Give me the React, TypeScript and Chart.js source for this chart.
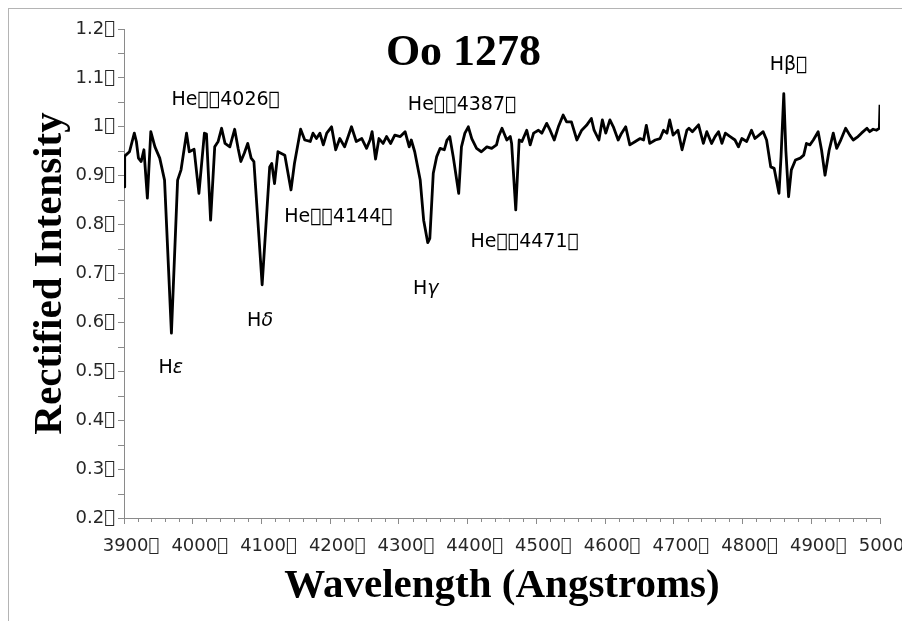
import React, { useEffect, useRef } from "react";
import { Chart, registerables } from "chart.js";

Chart.register(...registerables);

// glyph the original font could not show (rendered as a box)
const T = "\uE000";

const wavelengths = [
  3900, 3901, 3908, 3915, 3918, 3921, 3925, 3929, 3934, 3939, 3945, 3952, 3959, 3969, 3978, 3983, 3991, 3995,
  4002, 4009, 4017, 4020, 4026, 4032, 4037, 4042, 4047, 4054, 4061, 4066, 4070, 4075, 4080, 4085, 4089, 4101,
  4112, 4115, 4119, 4124, 4134, 4143, 4148, 4157, 4163, 4171, 4175, 4180, 4185, 4190, 4195, 4202, 4208, 4214,
  4221, 4231, 4238, 4246, 4253, 4258, 4261, 4266, 4271, 4277, 4282, 4288, 4294, 4302, 4309, 4315, 4318, 4323,
  4331, 4336, 4342, 4345, 4350, 4355, 4360, 4366, 4370, 4374, 4379, 4387, 4391, 4396, 4401, 4406, 4413, 4420,
  4428, 4435, 4442, 4445, 4450, 4457, 4462, 4464, 4470, 4475, 4479, 4486, 4491, 4496, 4503, 4508, 4515, 4520,
  4526, 4532, 4539, 4544, 4551, 4559, 4566, 4573, 4580, 4584, 4591, 4596, 4601, 4607, 4612, 4619, 4624, 4630,
  4636, 4644, 4651, 4656, 4660, 4665, 4673, 4680, 4685, 4690, 4694, 4699, 4706, 4712, 4719, 4722, 4727, 4736,
  4743, 4748, 4755, 4760, 4765, 4770, 4775, 4782, 4789, 4794, 4799, 4806, 4813, 4818, 4824, 4830, 4835, 4841,
  4846, 4853, 4856, 4860, 4863, 4867, 4871, 4877, 4884, 4889, 4893, 4898, 4903, 4910, 4915, 4920, 4926, 4932,
  4937, 4942, 4950, 4956, 4961, 4968, 4973, 4981, 4985, 4990, 4995, 4999, 5000,
];

const intensities = [
  0.877, 0.94, 0.949, 0.987, 0.97, 0.936, 0.929, 0.953, 0.854, 0.99, 0.959, 0.936, 0.891, 0.578, 0.891, 0.912, 0.987, 0.949,
  0.954, 0.864, 0.987, 0.985, 0.809, 0.959, 0.97, 0.997, 0.966, 0.959, 0.995, 0.956, 0.929, 0.946, 0.966, 0.936, 0.929, 0.677,
  0.918, 0.925, 0.884, 0.949, 0.942, 0.871, 0.925, 0.995, 0.973, 0.97, 0.987, 0.976, 0.987, 0.963, 0.987, 1.0, 0.953, 0.976,
  0.959, 1.0, 0.97, 0.976, 0.956, 0.973, 0.99, 0.934, 0.976, 0.966, 0.98, 0.966, 0.983, 0.98, 0.99, 0.959, 0.973, 0.949,
  0.891, 0.809, 0.763, 0.772, 0.905, 0.939, 0.956, 0.953, 0.973, 0.98, 0.939, 0.864, 0.959, 0.987, 1.0, 0.976, 0.956, 0.949,
  0.959, 0.956, 0.963, 0.98, 0.997, 0.973, 0.98, 0.966, 0.83, 0.973, 0.97, 0.993, 0.963, 0.987, 0.993, 0.987, 1.007, 0.993,
  0.973, 1.0, 1.024, 1.01, 1.01, 0.973, 0.993, 1.003, 1.017, 0.993, 0.973, 1.014, 0.987, 1.014, 1.0, 0.973, 0.987, 1.0,
  0.963, 0.97, 0.976, 0.973, 1.003, 0.966, 0.973, 0.976, 0.993, 0.987, 1.014, 0.983, 0.993, 0.953, 0.993, 0.997, 0.99, 1.004,
  0.966, 0.99, 0.966, 0.98, 0.99, 0.966, 0.987, 0.98, 0.973, 0.959, 0.976, 0.97, 0.993, 0.976, 0.983, 0.99, 0.973, 0.918,
  0.915, 0.864, 0.939, 1.068, 0.952, 0.857, 0.912, 0.932, 0.936, 0.942, 0.966, 0.963, 0.973, 0.99, 0.952, 0.901, 0.952, 0.987,
  0.956, 0.97, 0.997, 0.983, 0.973, 0.98, 0.987, 0.997, 0.99, 0.995, 0.993, 0.997, 1.045,
];

const xTickValues = [3900, 4000, 4100, 4200, 4300, 4400, 4500, 4600, 4700, 4800, 4900, 5000];
const xTickLabels = ["3900", "4000", "4100", "4200", "4300", "4400", "4500", "4600", "4700", "4800", "4900", "5000"].map((s) => s + T);
const yTickValues = [0.2, 0.3, 0.4, 0.5, 0.6, 0.7, 0.8, 0.9, 1.0, 1.1, 1.2];
const yTickLabels = ["0.2", "0.3", "0.4", "0.5", "0.6", "0.7", "0.8", "0.9", "1", "1.1", "1.2"].map((s) => s + T);
const xMinorTicks = [3920, 3940, 3960, 3980, 4020, 4040, 4060, 4080, 4120, 4140, 4160, 4180, 4220, 4240, 4260, 4280,
  4320, 4340, 4360, 4380, 4420, 4440, 4460, 4480, 4520, 4540, 4560, 4580, 4620, 4640, 4660, 4680, 4720, 4740, 4760, 4780,
  4820, 4840, 4860, 4880, 4920, 4940, 4960, 4980];
const yMinorTicks = [0.25, 0.35, 0.45, 0.55, 0.65, 0.75, 0.85, 0.95, 1.05, 1.15];

const chartTitle = "Oo 1278";
const xAxisTitle = "Wavelength (Angstroms)";
const yAxisTitle = "Rectified Intensity";

const lineLabels = [
  { text: "He" + T + T + "4026" + T, greek: "", x: 4048, y: 1.055 },
  { text: "He" + T + T + "4144" + T, greek: "", x: 4212, y: 0.816 },
  { text: "He" + T + T + "4387" + T, greek: "", x: 4392, y: 1.045 },
  { text: "He" + T + T + "4471" + T, greek: "", x: 4483, y: 0.765 },
  { text: "H", greek: "ε", x: 3968, y: 0.506 },
  { text: "H", greek: "δ", x: 4098, y: 0.603 },
  { text: "H", greek: "γ", x: 4339, y: 0.669 },
  { text: "Hβ" + T, greek: "", x: 4867, y: 1.126 },
];

const AXIS = "#8a8a8a";
const SANS = "'DejaVu Sans', sans-serif";
const SERIF = "'Liberation Serif', serif";

const textPlugin = {
  id: "overlayText",
  afterDraw(chart: any) {
    const { ctx, scales } = chart;
    const xs = scales.x;
    const ys = scales.y;
    ctx.save();
    // minor ticks
    ctx.strokeStyle = AXIS;
    ctx.lineWidth = 1;
    const bottom = chart.chartArea.bottom;
    const left = chart.chartArea.left;
    xMinorTicks.forEach((v) => {
      const px = Math.round(xs.getPixelForValue(v)) + 0.5;
      ctx.beginPath();
      ctx.moveTo(px, bottom);
      ctx.lineTo(px, bottom + 4);
      ctx.stroke();
    });
    yMinorTicks.forEach((v) => {
      const py = Math.round(ys.getPixelForValue(v)) + 0.5;
      ctx.beginPath();
      ctx.moveTo(left - 6, py);
      ctx.lineTo(left, py);
      ctx.stroke();
    });
    // title
    ctx.fillStyle = "#000";
    ctx.font = `bold 44px ${SERIF}`;
    ctx.textAlign = "center";
    ctx.textBaseline = "alphabetic";
    ctx.fillText(chartTitle, chart.width / 2 + 4, 56);
    // line labels
    ctx.textBaseline = "middle";
    ctx.textAlign = "left";
    lineLabels.forEach((l) => {
      const cx = xs.getPixelForValue(l.x);
      const cy = ys.getPixelForValue(l.y);
      ctx.font = `19px ${SANS}`;
      const w1 = ctx.measureText(l.text).width;
      ctx.font = `italic 19px ${SANS}`;
      const w2 = l.greek ? ctx.measureText(l.greek).width : 0;
      const x0 = cx - (w1 + w2) / 2;
      ctx.font = `19px ${SANS}`;
      ctx.fillText(l.text, x0, cy);
      if (l.greek) {
        ctx.font = `italic 19px ${SANS}`;
        ctx.fillText(l.greek, x0 + w1, cy);
      }
    });
    ctx.restore();
  },
};

export default function App() {
  const ref = useRef<HTMLCanvasElement | null>(null);
  useEffect(() => {
    document.documentElement.style.overflow = "hidden";
    if (!ref.current) return;
    const data = wavelengths.map((w, i) => ({ x: w, y: intensities[i] }));
    const chart = new Chart(ref.current, {
      type: "line",
      data: {
        datasets: [
          {
            data,
            borderColor: "#000",
            borderWidth: 2.8,
            pointRadius: 0,
            tension: 0,
            borderJoinStyle: "round",
            fill: false,
          },
        ],
      },
      options: {
        responsive: false,
        animation: false,
        layout: { padding: { left: 0, right: 30, top: 20, bottom: 0 } },
        plugins: { legend: { display: false }, tooltip: { enabled: false }, title: { display: false } },
        scales: {
          x: {
            type: "linear",
            min: 3900,
            max: 5000,
            afterBuildTicks: (s: any) => {
              s.ticks = xTickValues.map((v) => ({ value: v }));
            },
            afterFit: (s: any) => {
              s.height = 103;
              s.paddingLeft = 0;
              s.paddingRight = 0;
            },
            ticks: {
              autoSkip: false,
              maxRotation: 0,
              padding: 12,
              labelOffset: 7,
              color: "#262626",
              font: { family: SANS, size: 18 },
              callback: (_v: any, i: number) => xTickLabels[i],
            },
            grid: { drawOnChartArea: false, drawTicks: true, tickLength: 6, color: AXIS },
            border: { color: AXIS, width: 1 },
            title: {
              display: true,
              text: xAxisTitle,
              color: "#000",
              font: { family: SERIF, size: 41, weight: "bold" },
              padding: { top: 0, bottom: 10 },
            },
          },
          y: {
            type: "linear",
            min: 0.2,
            max: 1.2,
            afterBuildTicks: (s: any) => {
              s.ticks = yTickValues.map((v) => ({ value: v }));
            },
            afterFit: (s: any) => {
              s.width = 115;
              s.paddingTop = 0;
              s.paddingBottom = 0;
            },
            ticks: {
              autoSkip: false,
              padding: 3,
              color: "#262626",
              font: { family: SANS, size: 18 },
              callback: (_v: any, i: number) => yTickLabels[i],
            },
            grid: { drawOnChartArea: false, drawTicks: true, tickLength: 6, color: AXIS },
            border: { color: AXIS, width: 1 },
            title: {
              display: true,
              text: yAxisTitle,
              color: "#000",
              font: { family: SERIF, size: 41, weight: "bold" },
              padding: { top: 17, bottom: 0 },
            },
          },
        },
      },
      plugins: [textPlugin],
    });
    return () => chart.destroy();
  }, []);
  return (
    <div
      style={{
        width: 902,
        height: 613,
        borderTop: "1px solid #b4b4b4",
        borderLeft: "1px solid #b4b4b4",
        boxSizing: "border-box",
        background: "#fff",
      }}
    >
      <canvas ref={ref} width={901} height={612} style={{ display: "block" }} />
    </div>
  );
}
